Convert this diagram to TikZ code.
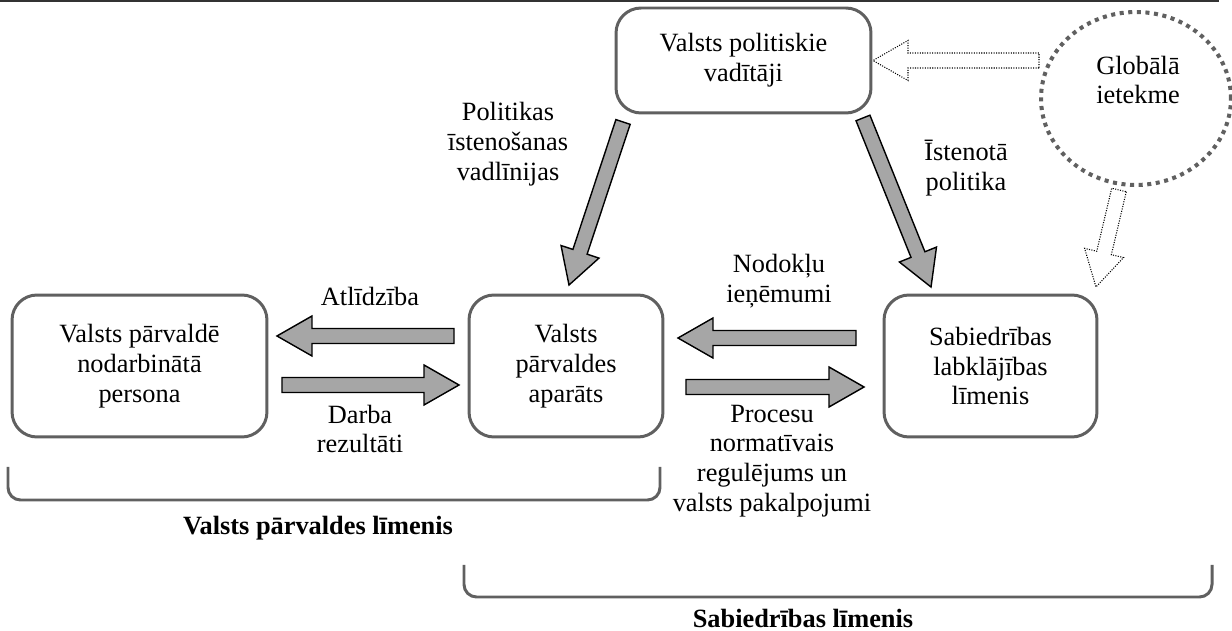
\documentclass[tikz,border=0pt]{standalone}
\usepackage{fontspec}
\setmainfont{Liberation Serif}
\usepackage{tikz}
\usetikzlibrary{calc, shapes.geometric}
\definecolor{boxgray}{HTML}{606060}
\definecolor{arrgray}{HTML}{A6A6A6}
\newcommand{\shafthw}{0.15cm}
\newcommand{\headhw}{0.4cm}
\newcommand{\headlen}{0.7cm}
\tikzset{
    box/.style={draw=boxgray, line width=1.7pt, rounded corners=0.5cm, align=center, inner sep=0pt, outer sep=0pt},
    lbl/.style={align=center, inner sep=0pt},
    fat/.style={fill=arrgray, draw=black, line width=0.8pt, line join=miter, to path={
        ($(\tikztostart)!\shafthw!90:(\tikztotarget)$)
        -- ($($(\tikztotarget)!\headlen!(\tikztostart)$)!\shafthw!90:(\tikztotarget)$)
        -- ($($(\tikztotarget)!\headlen!(\tikztostart)$)!\headhw!90:(\tikztotarget)$)
        -- (\tikztotarget)
        -- ($($(\tikztotarget)!\headlen!(\tikztostart)$)!\headhw!-90:(\tikztotarget)$)
        -- ($($(\tikztotarget)!\headlen!(\tikztostart)$)!\shafthw!-90:(\tikztotarget)$)
        -- ($(\tikztostart)!\shafthw!-90:(\tikztotarget)$) -- cycle}},
    hollow/.style={fat, fill=white, line width=0.6pt, dash pattern=on 0.6pt off 0.8pt},
    globe/.style={ellipse, draw=boxgray, line width=2.3pt, dash pattern=on 2.3pt off 2.6pt, inner sep=0pt, outer sep=0pt},
    bracket/.style={draw=boxgray, line width=1.7pt, rounded corners=0.25cm}
}

\begin{document}
\begin{tikzpicture}[x=0.02cm, y=-0.02cm, font=\fontsize{15}{17}\selectfont]
    \useasboundingbox (0, 0) rectangle (1232, 631);
    \draw[line width=0.04cm, black!80](0, 1)--(1219, 1);
    % boxes
    \node[box, minimum width=5.1cm, minimum height=2.1cm] (polit) at (743.5, 60.5) {Valsts politiskie\\vadītāji};
    \node[box, minimum width=5.1cm, minimum height=2.84cm] (pers) at (139.5, 366) {Valsts pārvaldē\\nodarbinātā\\persona};
    \node[box, minimum width=3.88cm, minimum height=2.84cm] (aparats) at (566, 366) {Valsts\\pārvaldes\\aparāts};
    \node[box, minimum width=4.26cm, minimum height=2.84cm] (labkl) at (990.5, 366) {Sabiedrības\\labklājības\\līmenis};
    \node[globe, minimum width=3.8cm, minimum height=3.46cm] (global) at (1136, 98.5) {};
    \node[lbl] (globtxt) at (1138, 80) {Globālā\\ietekme};
    % labels
    \node[lbl] (vadl) at (508, 144) {Politikas\\īstenošanas\\vadlīnijas};
    \node[lbl] (isten) at (966, 168) {Īstenotā\\politika};
    \node[lbl] (atl) at (370, 296) {Atlīdzība};
    \node[lbl] (darba) at (360, 429) {Darba\\rezultāti};
    \node[lbl] (nodokl) at (779, 281) {Nodokļu\\ieņēmumi};
    \node[lbl] (proc) at (772, 461) {Procesu\\normatīvais\\regulējums un\\valsts pakalpojumi};
    \node[lbl, font=\fontsize{15}{17}\selectfont\bfseries] (lvlvalsts) at (318, 528) {Valsts pārvaldes līmenis};
    \node[lbl, font=\fontsize{15}{17}\selectfont\bfseries] (lvlsab) at (803, 618) {Sabiedrības līmenis};
    % arrow ends
    \coordinate (atl-s) at ($(aparats.west)+(-15, -30)$);
    \coordinate (atl-e) at ($(pers.east)+(10, -30)$);
    \coordinate (darba-s) at ($(pers.east)+(15, 19)$);
    \coordinate (darba-e) at ($(aparats.west)+(-10, 19)$);
    \coordinate (nod-s) at ($(labkl.west)+(-28, -28)$);
    \coordinate (nod-e) at ($(aparats.east)+(15, -28)$);
    \coordinate (proc-s) at ($(aparats.east)+(23, 21)$);
    \coordinate (proc-e) at ($(labkl.west)+(-20, 21)$);
    \coordinate (vadl-s) at ($(polit.south west)+(7, 9)$);
    \coordinate (vadl-e) at ($(aparats.north)+(3, -10)$);
    \coordinate (ist-s) at ($(polit.south east)+(-8, 5)$);
    \coordinate (ist-e) at ($(labkl.north west)+(47, -8)$);
    \coordinate (glob-s) at ($(global.west)+(-2, -38)$);
    \coordinate (glob-e) at ($(polit.east)+(2, 0)$);
    \coordinate (globd-s) at ($(global.south)+(-17, 5)$);
    \coordinate (globd-e) at ($(labkl.north east)+(-1, -8)$);
    \draw[fat](atl-s) to (atl-e);
    \draw[fat](darba-s) to (darba-e);
    \draw[fat](nod-s) to (nod-e);
    \draw[fat](proc-s) to (proc-e);
    \draw[fat](vadl-s) to (vadl-e);
    \draw[fat](ist-s) to (ist-e);
    \draw[hollow](glob-s) to (glob-e);
    \draw[hollow](globd-s) to (globd-e);
    % levels
    \draw[bracket](8, 467)--(8, 500)--(660, 500)--(660, 467);
    \draw[bracket](464, 565)--(464, 597)--(1212, 597)--(1212, 565);
\end{tikzpicture}
\end{document}
